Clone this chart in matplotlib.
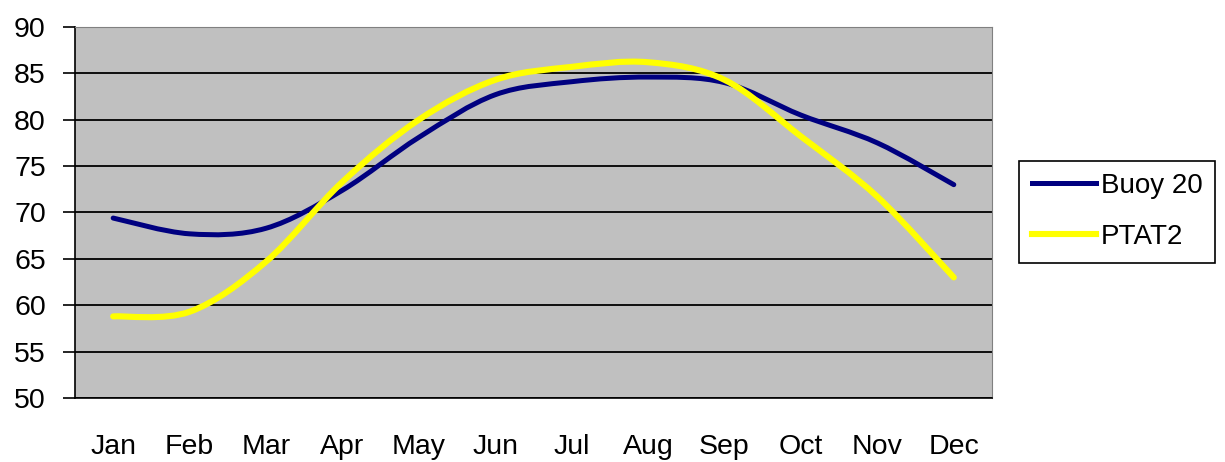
import matplotlib
matplotlib.use("Agg")
import matplotlib.pyplot as plt
from matplotlib.path import Path
from matplotlib.patches import PathPatch
from matplotlib.lines import Line2D

# data
months = ["Jan", "Feb", "Mar", "Apr", "May", "Jun",
          "Jul", "Aug", "Sep", "Oct", "Nov", "Dec"]
buoy20 = [69.4, 67.7, 68.3, 72.4, 78.1, 82.7, 84.1, 84.6, 84.0, 80.5, 77.5, 73.0]
ptat2 = [58.8, 59.3, 64.7, 73.3, 80.0, 84.3, 85.7, 86.2, 84.3, 78.2, 71.7, 63.0]
y_ticks = [50, 55, 60, 65, 70, 75, 80, 85, 90]


def smooth_path(xs, ys):
    # Excel style smoothed line: cubic Bezier segments through every point
    n = len(xs)
    verts = [(xs[0], ys[0])]
    codes = [Path.MOVETO]
    for i in range(n - 1):
        x0, y0 = xs[max(i - 1, 0)], ys[max(i - 1, 0)]
        x1, y1 = xs[i], ys[i]
        x2, y2 = xs[i + 1], ys[i + 1]
        x3, y3 = xs[min(i + 2, n - 1)], ys[min(i + 2, n - 1)]
        c1 = (x1 + (x2 - x0) / 6, y1 + (y2 - y0) / 6)
        c2 = (x2 - (x3 - x1) / 6, y2 - (y3 - y1) / 6)
        verts += [c1, c2, (x2, y2)]
        codes += [Path.CURVE4] * 3
    return Path(verts, codes)


plt.rcParams["font.family"] = ["Liberation Sans", "DejaVu Sans"]

fig = plt.figure(figsize=(12.25, 4.62), dpi=100)
ax = fig.add_axes([0.0612, 0.1385, 0.7486, 0.8031])
ax.set_facecolor("#C0C0C0")

x = list(range(len(months)))
series = [("Buoy 20", buoy20, "#000080", 3.6),
          ("PTAT2", ptat2, "#FFFF00", 4.4)]
handles = []
for name, vals, col, lw in series:
    patch = PathPatch(smooth_path(x, vals), facecolor="none", edgecolor=col,
                      lw=lw, capstyle="round", joinstyle="round", zorder=3)
    ax.add_patch(patch)
    handles.append(Line2D([], [], color=col, lw=lw, label=name))

ax.set_xlim(-0.5, 11.5)
ax.set_ylim(50, 90)
ax.set_yticks(y_ticks)
ax.set_xticks(x)
ax.set_xticklabels(months)

ax.yaxis.grid(True, color="black", lw=1.3)
ax.set_axisbelow(True)

ax.tick_params(axis="y", labelsize=20.5, length=9, width=1.2, pad=12, direction="out")
ax.tick_params(axis="x", labelsize=20.5, length=0, pad=26)

ax.spines["left"].set_color("black")
ax.spines["bottom"].set_color("black")
ax.spines["left"].set_linewidth(1.2)
ax.spines["bottom"].set_linewidth(1.2)
ax.spines["top"].set_color("#808080")
ax.spines["right"].set_color("#808080")

leg = fig.legend(handles=handles, loc="center left", bbox_to_anchor=(0.832, 0.542),
                 fontsize=20, frameon=True, fancybox=False, framealpha=1,
                 edgecolor="black", handlelength=2.3, handletextpad=0.2,
                 labelspacing=0.9, borderpad=0.45, borderaxespad=0)
leg.get_frame().set_linewidth(1.2)

fig.savefig("out.png", dpi=100)
